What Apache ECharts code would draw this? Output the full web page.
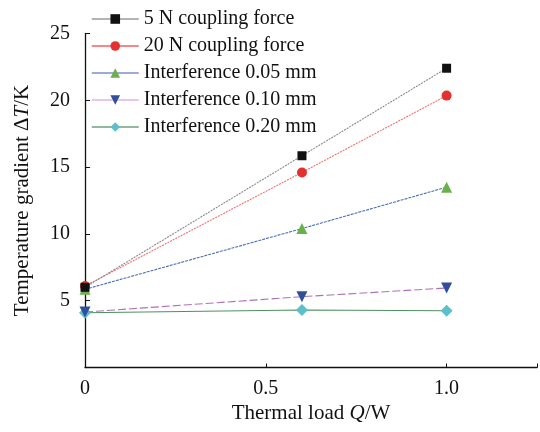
<!DOCTYPE html>
<html>
<head>
<meta charset="utf-8">
<script src="https://cdn.jsdelivr.net/npm/echarts@6/dist/echarts.min.js"></script>
<style>html,body{margin:0;padding:0;background:#fff}#c{width:540px;height:432px}</style>
</head>
<body>
<div id="c"></div>
<script>
const xValues = [0, 0.6, 1.0];
const seriesNames = ['5 N coupling force', '20 N coupling force', 'Interference 0.05 mm', 'Interference 0.10 mm', 'Interference 0.20 mm'];
const s5N = [6.0, 15.85, 22.4];
const s20N = [6.1, 14.6, 20.35];
const s005 = [5.85, 10.4, 13.5];
const s010 = [4.15, 5.3, 5.95];
const s020 = [4.1, 4.3, 4.25];
const xTickLabels = ['0', '0.5', '1.0'];
const yTickLabels = ['5', '10', '15', '20', '25'];

const font = 'Liberation Serif, Times New Roman, serif';
const pair = v => xValues.map((x, i) => [x, v[i]]);

const styles = [
  {sym: 'rect', size: 9, rot: 0, mc: '#111111', lc: '#8a8a8a', lt: [2, 1]},
  {sym: 'circle', size: 10, rot: 0, mc: '#e53030', lc: '#f07070', lt: [2, 1]},
  {sym: 'triangle', size: 11, rot: 0, mc: '#6ab04c', lc: '#4a6fb8', lt: [3, 1]},
  {sym: 'triangle', size: 11, rot: 180, mc: '#2f4f9a', lc: '#b070b8', lt: [8, 3]},
  {sym: 'diamond', size: 12, rot: 0, mc: '#5bc0cc', lc: '#4f9060', lt: 'solid'}
];
const legendColors = ['#9a9a9a', '#f06060', '#7a90c8', '#e2b4e2', '#6fa07c'];
const datas = [s5N, s20N, s005, s010, s020];

const series = datas.map((d, i) => ({
  name: seriesNames[i],
  type: 'line',
  data: pair(d),
  symbol: styles[i].sym,
  symbolSize: styles[i].size,
  symbolRotate: styles[i].rot,
  itemStyle: {color: styles[i].mc},
  lineStyle: {color: styles[i].lc, width: 1.1, type: styles[i].lt},
  emphasis: {disabled: true},
  animation: false,
  z: 5 - i
}));

const chart = echarts.init(document.getElementById('c'), null, {renderer: 'canvas'});
chart.setOption({
  backgroundColor: '#fff',
  animation: false,
  grid: {left: 85, right: 2, top: 33.5, bottom: 64.5, containLabel: false},
  legend: {
    orient: 'vertical',
    left: 91,
    top: 9,
    padding: 0,
    itemWidth: 47,
    itemHeight: 12,
    itemGap: 7,
    itemTextGap: 1,
    data: seriesNames.map((n, i) => ({name: n, lineStyle: {type: 'solid', color: legendColors[i], width: 1.5}})),
    textStyle: {fontFamily: font, fontSize: 20, color: '#111', lineHeight: 20}
  },
  xAxis: {
    type: 'value',
    min: 0, max: 1.25, interval: 0.5,
    name: 'Thermal load {i|Q}/W',
    nameLocation: 'middle',
    nameGap: 35,
    nameTextStyle: {fontFamily: font, fontSize: 21, color: '#111', rich: {i: {fontFamily: font, fontSize: 21, fontStyle: 'italic', color: '#111'}}},
    axisLine: {lineStyle: {color: '#111', width: 1.3}},
    axisTick: {show: true, inside: true, length: 4, lineStyle: {color: '#111'}},
    splitLine: {show: false},
    axisLabel: {
      fontFamily: font, fontSize: 20, color: '#111', margin: 11,
      formatter: v => { const k = Math.round(v / 0.5); return (Math.abs(v - k * 0.5) < 1e-9 && k < xTickLabels.length) ? xTickLabels[k] : ''; }
    }
  },
  yAxis: {
    type: 'value',
    min: 0, max: 25, interval: 5,
    name: 'Temperature gradient Δ{i|T}/K',
    nameLocation: 'middle',
    nameGap: 52,
    nameTextStyle: {fontFamily: font, fontSize: 21, color: '#111', rich: {i: {fontFamily: font, fontSize: 21, fontStyle: 'italic', color: '#111'}}},
    axisLine: {show: true, lineStyle: {color: '#111', width: 1.3}},
    axisTick: {show: true, inside: true, length: 5, lineStyle: {color: '#111'}},
    splitLine: {show: false},
    axisLabel: {
      fontFamily: font, fontSize: 20, color: '#111', margin: 15,
      formatter: v => { const k = Math.round(v / 5) - 1; return k >= 0 ? yTickLabels[k] : ''; }
    }
  },
  series: series
});
</script>
</body>
</html>
